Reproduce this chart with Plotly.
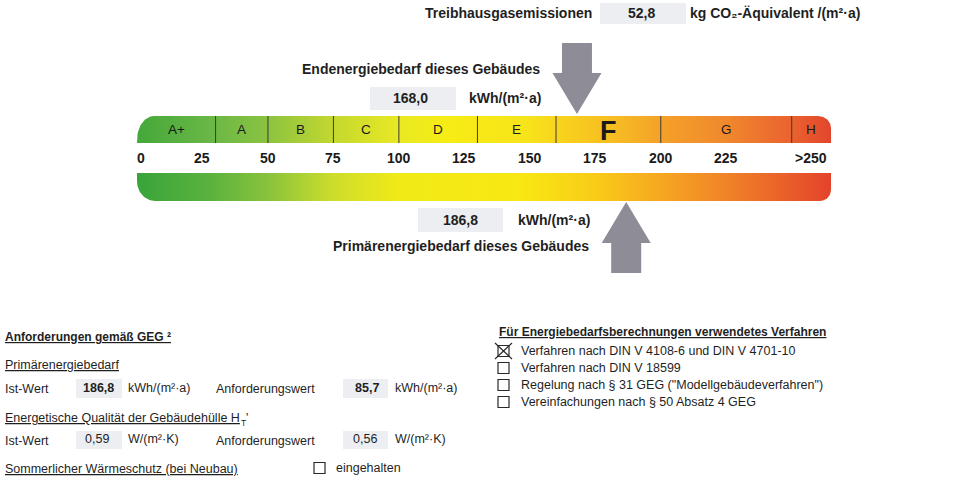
import numpy as np
import plotly.graph_objects as go

# ---------------- data ----------------
class_labels = ["A+", "A", "B", "C", "D", "E", "F", "G", "H"]
class_bounds = [0, 30, 50, 75, 100, 130, 160, 200, 250, 265]
tick_values = [0, 25, 50, 75, 100, 125, 150, 175, 200, 225, 257.5]
tick_labels = ["0", "25", "50", "75", "100", "125", "150", "175", "200", "225", ">250"]
building_class = "F"
endenergie = 168.0
primaerenergie = 186.8
treibhausgas = 52.8
prim_ist = 186.8
prim_anf = 85.7
ht_ist = 0.59
ht_anf = 0.56
verfahren_labels = [
    "Verfahren nach DIN V 4108-6 und DIN V 4701-10",
    "Verfahren nach DIN V 18599",
    "Regelung nach § 31 GEG (\"Modellgebäudeverfahren\")",
    "Vereinfachungen nach § 50 Absatz 4 GEG",
]
verfahren_checked = [True, False, False, False]
sommer_checked = False

# ---------------- layout constants ----------------
W, H = 960, 485
X0 = 137.0                 # pixel of value 0
S = 694.0 / 265.0          # pixels per unit
FONT = "Liberation Sans, Arial, sans-serif"
TXT = "#1f1f1f"


def px2x(px):
    return (px - X0) / S


def de(v, nd=1):
    return f"{v:.{nd}f}".replace(".", ",")


fig = go.Figure()

top_colors = [
    [0.0, "#44a83a"], [0.113, "#6cb846"], [0.19, "#8cc340"], [0.283, "#c4d82f"],
    [0.377, "#e9e923"], [0.45, "#f7ec15"], [0.56, "#f7e41b"], [0.62, "#f8d01d"],
    [0.70, "#f6b824"], [0.755, "#f4a129"], [0.85, "#f0882d"], [0.943, "#ea622f"],
    [1.0, "#e2462c"],
]
bot_colors = [
    [0.0, "#38a43a"], [0.1, "#58b13e"], [0.19, "#8ac33c"], [0.283, "#cddd2c"],
    [0.377, "#f1ea17"], [0.55, "#f8e813"], [0.66, "#f9cc18"], [0.755, "#f6a721"],
    [0.85, "#f08328"], [1.0, "#e4432b"],
]


def arc(cx, cy, rx, ry, t0, t1, n=24):
    t = np.linspace(t0, t1, n)
    return list(cx + rx * np.cos(t)), list(cy + ry * np.sin(t))


# top (class) bar, rounded upper corners
x0, x1 = class_bounds[0], class_bounds[-1]
yt, yb = 116.0, 143.0
rxl, ryl = 17 / S, 24.0
rxr, ryr = 13 / S, 12.0
xs, ys = [x0], [yb]
ax, ay = arc(x0 + rxl, yt + ryl, rxl, ryl, np.pi, 1.5 * np.pi)
xs += ax; ys += ay
ax, ay = arc(x1 - rxr, yt + ryr, rxr, ryr, 1.5 * np.pi, 2 * np.pi)
xs += ax; ys += ay
xs += [x1, x0]; ys += [yb, yb]
fig.add_trace(go.Scatter(x=xs, y=ys, mode="lines", fill="toself", line=dict(width=0),
                         fillgradient=dict(type="horizontal", colorscale=top_colors, start=x0, stop=x1),
                         hoverinfo="skip", showlegend=False))

# bottom bar, rounded lower corners
yt2, yb2 = 173.0, 201.0
rxl2, ryl2 = 18 / S, 20.0
rxr2, ryr2 = 11 / S, 11.0
xs, ys = [x0, x1], [yt2, yt2]
ax, ay = arc(x1 - rxr2, yb2 - ryr2, rxr2, ryr2, 0, 0.5 * np.pi)
xs += ax; ys += ay
ax, ay = arc(x0 + rxl2, yb2 - ryl2, rxl2, ryl2, 0.5 * np.pi, np.pi)
xs += ax; ys += ay
xs += [x0]; ys += [yt2]
fig.add_trace(go.Scatter(x=xs, y=ys, mode="lines", fill="toself", line=dict(width=0),
                         fillgradient=dict(type="horizontal", colorscale=bot_colors, start=x0, stop=x1),
                         hoverinfo="skip", showlegend=False))

# arrows
ARROW = "#8e8c96"
hw, sw = 24.5 / S, 15.0 / S
v = endenergie
fig.add_trace(go.Scatter(
    x=[v - sw, v + sw, v + sw, v + hw, v, v - hw, v - sw, v - sw],
    y=[43, 43, 73, 73, 114, 73, 73, 43],
    mode="lines", fill="toself", fillcolor=ARROW, line=dict(width=0),
    hoverinfo="skip", showlegend=False))
v = primaerenergie
fig.add_trace(go.Scatter(
    x=[v - sw, v + sw, v + sw, v + hw, v, v - hw, v - sw, v - sw],
    y=[273, 273, 243, 243, 202, 243, 243, 273],
    mode="lines", fill="toself", fillcolor=ARROW, line=dict(width=0),
    hoverinfo="skip", showlegend=False))

shapes = []
ann = []

# class separators
for b in class_bounds[1:-1]:
    shapes.append(dict(type="line", xref="x", yref="y", x0=b, x1=b, y0=yt, y1=yb,
                       line=dict(color="#3a3a3a", width=1)))

# class labels
for i, lab in enumerate(class_labels):
    cx = (class_bounds[i] + class_bounds[i + 1]) / 2
    big = lab == building_class
    ann.append(dict(x=cx, y=(yt + yb) / 2 + (1 if big else 0), xref="x", yref="y", text=lab,
                    showarrow=False, xanchor="center", yanchor="middle",
                    font=dict(family=FONT, size=27 if big else 13.5, color="#1a1a1a",
                              weight="bold" if big else "normal")))

# scale ticks
for tv, tl in zip(tick_values, tick_labels):
    ann.append(dict(x=tv, y=158, xref="x", yref="y", text=tl, showarrow=False,
                    xanchor="left" if tv == 0 else "center", yanchor="middle",
                    xshift=-2 if tv == 0 else 0,
                    font=dict(family=FONT, size=14, color="#1a1a1a", weight="bold")))


def box(xa, xb, ya, yb_):
    shapes.append(dict(type="rect", xref="paper", yref="y", x0=xa / W, x1=xb / W, y0=ya, y1=yb_,
                       fillcolor="#eceef1", line=dict(width=0), layer="below"))


def txt(x, y, s, size=12.5, bold=False, anchor="left", under=False, color=TXT):
    ann.append(dict(x=x / W, y=y, xref="paper", yref="y", text=s, showarrow=False,
                    xanchor=anchor, yanchor="middle",
                    font=dict(family=FONT, size=size, color=color,
                              weight="bold" if bold else "normal",
                              lineposition="under" if under else "none")))


def checkbox(x, y, checked=False):
    shapes.append(dict(type="rect", xref="paper", yref="y", x0=x / W, x1=(x + 11) / W,
                       y0=y - 5.5, y1=y + 5.5, line=dict(color="#2a2a2a", width=1.2),
                       fillcolor="rgba(0,0,0,0)"))
    if checked:
        for (xa, ya, xb, yb_) in [(x - 3, y - 8, x + 14, y + 8), (x - 3, y + 8, x + 14, y - 8)]:
            shapes.append(dict(type="line", xref="paper", yref="y", x0=xa / W, x1=xb / W,
                               y0=ya, y1=yb_, line=dict(color="#2a2a2a", width=1.2)))


# header: greenhouse emissions
box(600, 686, 3, 24)
txt(594, 13, "Treibhausgasemissionen", 14, True, "right")
txt(641, 13, de(treibhausgas), 14, True, "center")
txt(775, 13, "kg CO₂-Äquivalent /(m²·a)", 14, True, "center")

# end energy
txt(421, 69, "Endenergiebedarf dieses Gebäudes", 14, True, "center")
box(370, 456, 87, 110)
txt(410, 98, de(endenergie), 14, True, "center")
txt(505, 98, "kWh/(m²·a)", 14, True, "center")

# primary energy
box(418, 503, 208, 232)
txt(460, 220, de(primaerenergie), 14, True, "center")
txt(554, 220, "kWh/(m²·a)", 14, True, "center")
txt(461, 246, "Primärenergiebedarf dieses Gebäudes", 14, True, "center")

# requirements (left column)
txt(3, 337, "Anforderungen gemäß GEG ²", 12, True, under=True)
txt(3, 365, "Primärenergiebedarf", 12.5, under=True)
txt(3, 389, "Ist-Wert")
box(76, 122, 379, 398)
txt(98, 388, de(prim_ist), 12.5, True, "center")
txt(126, 388, "kWh/(m²·a)")
txt(214, 389, "Anforderungswert")
box(343, 388, 379, 398)
txt(367, 388, de(prim_anf), 12.5, True, "center")
txt(393, 388, "kWh/(m²·a)")
txt(3, 418, "Energetische Qualität der Gebäudehülle H", 12.5, under=True)
txt(239, 423, "T", 8.5)
txt(244, 418, "'", 12.5)
txt(3, 441, "Ist-Wert")
box(76, 122, 431, 449)
txt(97, 439, de(ht_ist, 2), 12.5, False, "center")
txt(126, 439, "W/(m²·K)")
txt(214, 441, "Anforderungswert")
box(343, 388, 431, 449)
txt(365, 439, de(ht_anf, 2), 12.5, False, "center")
txt(393, 439, "W/(m²·K)")
txt(3, 469, "Sommerlicher Wärmeschutz (bei Neubau)", 12.5, under=True)
checkbox(314, 468, sommer_checked)
txt(334, 468, "eingehalten")

# calculation procedure (right column)
txt(497, 332, "Für Energiebedarfsberechnungen verwendetes Verfahren", 12, True, under=True)
for i, (lab, chk) in enumerate(zip(verfahren_labels, verfahren_checked)):
    yy = 351 + i * 17
    checkbox(498, yy, chk)
    txt(519, yy, lab)

fig.update_layout(
    width=W, height=H,
    margin=dict(l=0, r=0, t=0, b=0),
    paper_bgcolor="white", plot_bgcolor="white",
    showlegend=False,
    xaxis=dict(range=[px2x(0), px2x(W)], visible=False, fixedrange=True),
    yaxis=dict(range=[H, 0], visible=False, fixedrange=True),
    shapes=shapes, annotations=ann,
)

fig.write_html("out.html", config={"displayModeBar": False},
               post_script="document.body.style.margin='0px';document.body.style.overflow='hidden';")
